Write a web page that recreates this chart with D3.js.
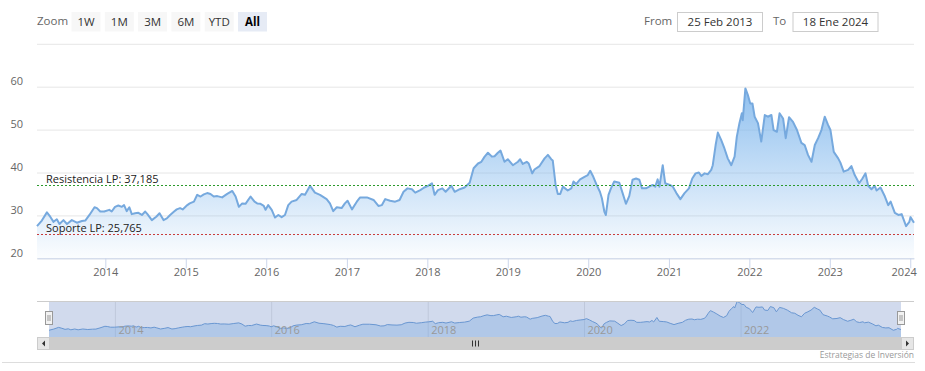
<!DOCTYPE html>
<html>
<head>
<meta charset="utf-8">
<script src="https://cdn.jsdelivr.net/npm/d3@7"></script>
<style>
  body { margin: 0; background: #fff; }
  svg { display: block; font-family: "Open Sans", sans-serif; }
</style>
</head>
<body>
<svg id="chart" width="925" height="371"></svg>
<script>
// price series, one point every 2-3 weeks
const dates = [
  "2013-02-25","2013-03-19","2013-04-11","2013-04-26","2013-05-11","2013-05-26","2013-06-07","2013-06-25","2013-07-11","2013-08-02","2013-08-25","2013-09-17","2013-10-02","2013-10-21","2013-11-13","2013-11-24","2013-12-09","2013-12-27",
  "2014-01-19","2014-01-30","2014-02-14","2014-03-01","2014-03-17","2014-03-27","2014-04-08","2014-04-20","2014-05-01","2014-05-16","2014-05-31","2014-06-16","2014-07-01","2014-07-11","2014-07-31","2014-08-20","2014-09-04","2014-09-22","2014-10-07","2014-10-22","2014-11-09","2014-11-21","2014-12-06","2014-12-18",
  "2015-01-08","2015-01-19","2015-02-07","2015-02-22","2015-03-09","2015-03-24","2015-04-08","2015-04-23","2015-05-08","2015-05-24","2015-06-15","2015-07-08","2015-07-31","2015-08-15","2015-08-30","2015-09-14","2015-09-29","2015-10-22","2015-11-09","2015-11-21","2015-12-06","2015-12-21","2015-12-29",
  "2016-01-10","2016-01-26","2016-02-10","2016-02-25","2016-03-11","2016-03-26","2016-04-10","2016-04-25","2016-05-18","2016-06-10","2016-06-25","2016-07-18","2016-08-09","2016-09-01","2016-10-01","2016-10-16","2016-10-31","2016-11-16","2016-12-08","2016-12-23",
  "2017-01-04","2017-01-24","2017-02-15","2017-03-02","2017-04-02","2017-05-02","2017-05-24","2017-06-09","2017-06-24","2017-07-16","2017-08-08","2017-08-28","2017-09-15","2017-10-03","2017-10-23","2017-11-07","2017-11-30","2017-12-18",
  "2018-01-04","2018-01-22","2018-02-03","2018-02-18","2018-03-10","2018-03-25","2018-04-20","2018-05-05","2018-05-28","2018-06-19","2018-07-12","2018-07-30","2018-08-19","2018-09-03","2018-09-18","2018-10-03","2018-10-21","2018-11-02","2018-11-17","2018-11-29","2018-12-17",
  "2019-01-01","2019-01-24","2019-02-16","2019-02-26","2019-03-10","2019-03-28","2019-04-06","2019-04-22","2019-05-02","2019-05-25","2019-06-17","2019-07-02","2019-07-17","2019-07-24","2019-08-06","2019-08-16","2019-08-27","2019-09-08","2019-09-30","2019-10-16","2019-10-26","2019-11-07","2019-11-25","2019-12-15","2019-12-30",
  "2020-01-10","2020-01-24","2020-02-08","2020-02-23","2020-03-03","2020-03-14","2020-03-21","2020-04-02","2020-04-13","2020-04-28","2020-05-21","2020-06-05","2020-06-20","2020-07-05","2020-07-20","2020-08-05","2020-08-20","2020-09-01","2020-09-19","2020-10-04","2020-10-19","2020-10-31","2020-11-11","2020-11-19","2020-12-04","2020-12-15",
  "2021-01-05","2021-01-19","2021-02-04","2021-02-22","2021-03-13","2021-04-02","2021-04-17","2021-05-02","2021-05-17","2021-05-28","2021-06-12","2021-06-27","2021-07-12","2021-07-19","2021-08-01","2021-08-11","2021-08-26","2021-09-10","2021-09-25","2021-10-11","2021-10-26","2021-11-05","2021-11-17","2021-11-28","2021-12-02","2021-12-14","2021-12-25",
  "2022-01-05","2022-01-15","2022-01-25","2022-02-09","2022-02-24","2022-03-12","2022-03-26","2022-04-11","2022-04-21","2022-05-06","2022-05-18","2022-06-03","2022-06-15","2022-06-30","2022-07-18","2022-08-05","2022-08-25","2022-09-09","2022-09-24","2022-10-10","2022-10-25","2022-11-09","2022-11-24","2022-12-09","2022-12-24",
  "2023-01-04","2023-01-19","2023-02-08","2023-02-18","2023-03-05","2023-03-25","2023-04-09","2023-04-24","2023-05-14","2023-05-29","2023-06-12","2023-06-24","2023-07-09","2023-07-24","2023-08-01","2023-08-19","2023-09-08","2023-09-23","2023-10-04","2023-10-23","2023-11-08","2023-11-23","2023-12-13","2023-12-28",
  "2024-01-02","2024-01-18"
]
const prices = [
  27.5,28.8,30.7,29.7,28.5,29.1,28.0,28.9,28.0,28.9,28.3,28.7,28.8,30.1,31.9,31.7,30.9,30.9,
  31.3,30.9,32.0,32.3,32.0,32.4,31.0,31.9,30.3,30.5,30.6,30.1,30.9,30.3,28.9,29.7,30.5,28.9,29.3,30.1,30.9,31.4,31.7,31.4,
  32.4,32.8,33.2,34.8,34.4,34.9,35.2,35.0,34.4,34.5,34.2,35.0,35.7,34.4,32.0,32.8,32.7,34.4,33.2,32.8,32.7,32.2,31.3,
  32.4,31.3,29.5,30.1,29.6,30.1,32.4,33.2,33.6,35.0,34.8,36.9,35.3,34.8,33.8,32.8,31.0,31.9,31.7,32.8,
  33.4,31.4,33.2,34.2,34.2,33.6,32.2,32.4,33.8,33.4,33.2,33.6,35.5,36.3,36.1,35.3,35.9,36.5,
  36.9,37.5,34.8,35.9,36.3,35.5,36.9,35.5,36.1,36.5,37.6,41.0,42.1,42.5,43.7,44.6,43.7,43.8,44.6,45.1,42.5,
  43.1,41.7,42.5,43.1,42.0,42.5,42.1,39.8,40.7,41.5,43.3,44.1,43.1,42.8,37.1,35.0,35.0,36.7,35.8,36.3,37.9,37.3,38.4,39.0,39.4,
  40.4,39.0,37.1,35.5,34.0,30.9,30.1,34.8,36.3,37.9,37.6,35.2,32.7,34.5,38.3,38.6,38.3,36.3,36.3,36.7,37.1,36.7,38.4,36.7,41.7,37.5,
  37.1,36.7,35.2,33.8,35.2,36.3,38.6,39.8,40.0,39.2,39.8,39.6,40.6,41.7,46.4,49.3,47.6,45.6,43.3,41.7,43.7,48.3,51.5,53.8,52.2,59.6,58.1,
  56.1,56.1,53.0,51.5,47.2,53.4,53.0,53.4,49.9,49.5,53.8,52.6,48.0,52.9,51.8,49.9,46.9,46.4,44.1,42.5,46.4,48.0,49.9,53.0,51.1,
  49.9,44.8,43.3,42.3,40.2,40.6,41.5,39.4,37.5,38.6,39.8,36.9,36.1,36.9,35.8,36.5,34.4,32.4,33.2,30.6,30.1,30.3,27.5,28.5,
  29.6,28.3
]

const yTicks = [20, 30, 40, 50, 60, 70]
const yearTicks = ["2014","2015","2016","2017","2018","2019","2020","2021","2022","2023","2024"]
const navTicks = ["2014","2016","2018","2020","2022"]
const zoomButtons = ["1W", "1M", "3M", "6M", "YTD", "All"]
const rangeFrom = "25 Feb 2013"
const rangeTo = "18 Ene 2024"
const levels = [
  {label: "Resistencia LP: 37,185", value: 37.185, color: "#2c9a2c"},
  {label: "Soporte LP: 25,765", value: 25.765, color: "#c83c3c"}
]
const credit = "Estrategias de Inversión"

const parse = d3.timeParse("%Y-%m-%d")
const data = dates.map((d, i) => ({date: parse(d), value: prices[i]}))
const start = data[0].date, end = data[data.length - 1].date

const svg = d3.select("#chart")
const defs = svg.append("defs")

// ---------- range selector (header) ----------
const header = svg.append("g")
header.append("text").attr("x", 37).attr("y", 25).attr("fill", "#666").style("font-size", "11.5px").text("Zoom")
const btn = header.selectAll("g.btn").data(zoomButtons).enter().append("g")
  .attr("transform", (d, i) => `translate(${71.5 + i * 33.3},12)`)
btn.append("rect").attr("width", 29).attr("height", 19.5)
  .attr("fill", d => d === "All" ? "#e6ebf5" : "#f7f7f7")
btn.append("text").attr("x", 14.5).attr("y", 13.5).attr("text-anchor", "middle")
  .style("font-size", "11.5px").style("font-weight", d => d === "All" ? "bold" : "normal")
  .attr("fill", d => d === "All" ? "#000" : "#333").text(d => d)

const inputs = [{lab: "From", lx: 644, bx: 677.5, txt: rangeFrom}, {lab: "To", lx: 773, bx: 793, txt: rangeTo}]
inputs.forEach(o => {
  header.append("text").attr("x", o.lx).attr("y", 25).attr("fill", "#666").style("font-size", "11.5px").text(o.lab)
  header.append("rect").attr("x", o.bx).attr("y", 12.5).attr("width", 85).attr("height", 19)
    .attr("fill", "#fff").attr("stroke", "#ccc")
  header.append("text").attr("x", o.bx + 42.5).attr("y", 26).attr("text-anchor", "middle")
    .attr("fill", "#333").style("font-size", "11.5px").text(o.txt)
})

// ---------- main plot ----------
const x = d3.scaleTime().domain([start, end]).range([37, 914])
const y = d3.scaleLinear().domain([20, 70]).range([258.3, 43.8])

const yAxis = svg.append("g").attr("transform", "translate(37,0)")
  .call(d3.axisLeft(y).tickValues(yTicks).tickSize(-877).tickFormat(d => d === 70 ? "" : d))
yAxis.select(".domain").remove()
yAxis.selectAll(".tick line").attr("stroke", "#e6e6e6")
yAxis.selectAll(".tick text").attr("x", -14).attr("y", -2).attr("dy", 0)
  .attr("fill", "#666").style("font-size", "11px").style("font-family", "'Open Sans', sans-serif")

const grad = defs.append("linearGradient").attr("id", "areaFill")
  .attr("gradientUnits", "userSpaceOnUse").attr("x1", 0).attr("x2", 0)
  .attr("y1", y(60)).attr("y2", y(20))
grad.append("stop").attr("offset", 0).attr("stop-color", "#7cb5ec").attr("stop-opacity", 0.85)
grad.append("stop").attr("offset", 1).attr("stop-color", "#7cb5ec").attr("stop-opacity", 0.03)

const area = d3.area().x(d => x(d.date)).y0(y(20)).y1(d => y(d.value))
const line = d3.line().x(d => x(d.date)).y(d => y(d.value))
svg.append("path").datum(data).attr("d", area).attr("fill", "url(#areaFill)")
svg.append("path").datum(data).attr("d", line).attr("fill", "none")
  .attr("stroke", "#76a9de").attr("stroke-width", 2).attr("stroke-linejoin", "round")

// support / resistance lines (snapped to the pixel grid so they stay crisp)
levels.forEach(l => {
  const ly = Math.round(y(l.value)) + 0.5
  svg.append("line").attr("x1", 37).attr("x2", 914).attr("y1", ly).attr("y2", ly)
    .attr("stroke", l.color).attr("stroke-width", 1).attr("stroke-dasharray", "2,2")
  svg.append("text").attr("x", 46).attr("y", ly - 3).attr("fill", "#222")
    .style("font-size", "11px").text(l.label)
})

const xAxis = svg.append("g").attr("transform", `translate(0,${y(20)})`)
  .call(d3.axisBottom(x).tickValues(yearTicks.map(t => parse(t + "-01-01")))
    .tickSize(10).tickSizeOuter(0).tickFormat(d3.timeFormat("%Y")))
xAxis.select(".domain").attr("stroke", "#ccd6eb")
xAxis.selectAll(".tick line").attr("stroke", "#ccd6eb")
xAxis.selectAll(".tick text").attr("y", 18).attr("dy", 0).attr("fill", "#666")
  .style("font-size", "11px").style("font-family", "'Open Sans', sans-serif")
xAxis.selectAll(".tick text").filter(d => d.getFullYear() === 2024).attr("text-anchor", "end").attr("x", 6)

// ---------- navigator ----------
const nx = d3.scaleTime().domain([start, end]).range([49, 901])
const ny = d3.scaleLinear().domain([20, 60]).range([337, 301])
const nav = svg.append("g")

nav.selectAll("line.ngrid").data(navTicks).enter().append("line")
  .attr("x1", d => nx(parse(d + "-01-01"))).attr("x2", d => nx(parse(d + "-01-01")))
  .attr("y1", 301).attr("y2", 337).attr("stroke", "#e6e6e6")
nav.append("path").datum(data)
  .attr("d", d3.area().x(d => nx(d.date)).y0(337).y1(d => ny(d.value)))
  .attr("fill", "#7cb5ec").attr("fill-opacity", 0.35)
nav.append("path").datum(data)
  .attr("d", d3.line().x(d => nx(d.date)).y(d => ny(d.value)))
  .attr("fill", "none").attr("stroke", "#6b9fd8").attr("stroke-width", 1)
nav.append("rect").attr("x", 49).attr("y", 301).attr("width", 852).attr("height", 36)
  .attr("fill", "rgba(102,133,194,0.3)")
nav.selectAll("text.nlab").data(navTicks).enter().append("text")
  .attr("x", d => nx(parse(d + "-01-01")) + 3).attr("y", 334)
  .attr("fill", "#999").style("font-size", "11px").text(d => d)
nav.append("line").attr("x1", 37).attr("x2", 914).attr("y1", 301.5).attr("y2", 301.5).attr("stroke", "#ccc")

// handles
;[49, 901].forEach(hx => {
  nav.append("rect").attr("x", hx - 3.5).attr("y", 311.5).attr("width", 7).attr("height", 13)
    .attr("fill", "#f2f2f2").attr("stroke", "#999")
  ;[-1, 1].forEach(o => nav.append("line").attr("x1", hx + o).attr("x2", hx + o)
    .attr("y1", 315).attr("y2", 321).attr("stroke", "#999"))
})

// scrollbar
const sb = svg.append("g")
sb.append("rect").attr("x", 37).attr("y", 337).attr("width", 877).attr("height", 13).attr("fill", "#f2f2f2")
sb.append("rect").attr("x", 49).attr("y", 337).attr("width", 852).attr("height", 13).attr("fill", "#cccccc")
;[37, 901].forEach((bx, i) => {
  sb.append("rect").attr("x", bx + 0.5).attr("y", 337.5).attr("width", 12).attr("height", 12)
    .attr("fill", "#e6e6e6").attr("stroke", "#ccc")
  const cx = bx + 6.5
  const p = i === 0 ? `M${cx + 1.5},340.5 L${cx - 1.5},343.5 L${cx + 1.5},346.5 Z` : `M${cx - 1.5},340.5 L${cx + 1.5},343.5 L${cx - 1.5},346.5 Z`
  sb.append("path").attr("d", p).attr("fill", "#333")
})
;[-3, 0, 3].forEach(o => sb.append("line").attr("x1", 475.5 + o).attr("x2", 475.5 + o)
  .attr("y1", 340.5).attr("y2", 346.5).attr("stroke", "#333"))

// footer
svg.append("line").attr("x1", 2).attr("x2", 915).attr("y1", 362.5).attr("y2", 362.5).attr("stroke", "#ddd")
svg.append("text").attr("x", 914).attr("y", 358).attr("text-anchor", "end")
  .attr("fill", "#999").style("font-size", "8.5px").text(credit)
</script>
</body>
</html>
